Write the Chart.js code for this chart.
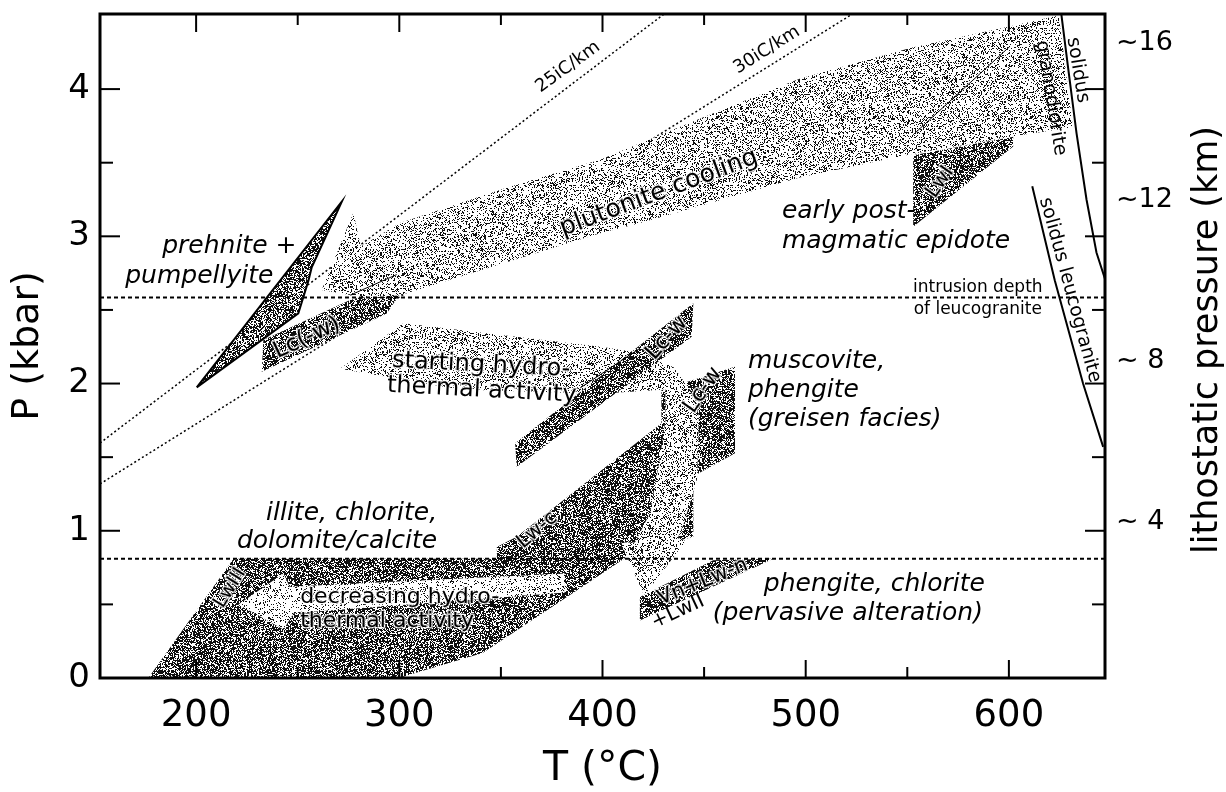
<!DOCTYPE html>
<html><head><meta charset="utf-8">
<script src="https://cdn.jsdelivr.net/npm/chart.js@4.4.1/dist/chart.umd.min.js"></script>
<style>html,body{margin:0;padding:0;background:#fff;}canvas{display:block;}</style>
</head><body>
<canvas id="c" width="1226" height="792"></canvas>
<script>
// ---------- axes ----------
const T_RANGE = [152.7, 647.3];
const P_RANGE = [0, 4.51];
const tTickLabels = [200, 300, 400, 500, 600];
const tMinorTicks = [250, 350, 450, 550];
const pTickLabels = [0, 1, 2, 3, 4];
const pMinorTicks = [0.5, 1.5, 2.5, 3.5];
const kmTickAt = [1.06, 2.15, 3.25, 4.31];
const kmTickLabels = ['~ 4', '~ 8', '~12', '~16'];

// ---------- fields and arrows, [T (°C), P (kbar)] ----------
const prehnitePumpellyite = [[200.3,1.974],[271.7,3.235],[256.9,2.79],[255.3,2.70],[250.3,2.477],[200.3,1.974]];
const lcParenW = [[232.3,2.08],[233.1,2.295],[275.8,2.567],[296,2.64],[300.4,2.61],[293.8,2.476],[232.3,2.08]];
const plutoniteCooling = [[261.8,2.635],[277.4,3.16],[281,2.93],[300.4,3.09],[352.8,3.33],[398.8,3.52],[450,3.81],[497,4.07],[552,4.28],[602,4.43],[624.5,4.50],[627.8,4.15],[631.5,3.74],[602,3.68],[552.8,3.56],[497,3.40],[418.5,3.09],[398.8,3.02],[300.4,2.60],[285,2.58],[261.8,2.635]];
const lwI = [[552.9,3.065],[552.9,3.55],[602.1,3.676],[602.1,3.61],[552.9,3.065]];
const startingHydro = [[270.8,2.10],[302,2.41],[350,2.33],[399,2.25],[418.5,2.21],[435,2.11],[443,1.96],[447.5,1.78],[446.5,1.35],[440,1.05],[437,0.95],[441,0.93],[420.5,0.56],[409,0.92],[416,0.92],[423.4,1.12],[428.3,1.50],[431,1.75],[431,1.96],[398,1.93],[330,1.96],[270.8,2.10]];
const lcW1 = [[357.8,1.435],[357,1.594],[444.7,2.545],[443.9,2.318],[357.8,1.435]];
const lwcLwIII = [[176.5,0],[218.4,0.81],[348,0.81],[348,0.89],[357.8,0.96],[429,1.73],[429,1.956],[465.2,2.114],[465.2,1.526],[444.7,1.37],[444.7,0.96],[415,0.85],[382.5,0.55],[341,0.17],[307,0.03],[300,0],[176.5,0]];
const vnLwn = [[418.4,0.39],[418.4,0.55],[454.5,0.80],[484,0.81],[418.4,0.39]];
const decreasingHydro = [[220.8,0.50],[243,0.71],[246,0.62],[381.5,0.71],[381.5,0.58],[248,0.44],[243,0.33],[220.8,0.50]];

// ---------- lines ----------
const geotherm25 = [[152.7,1.596],[430.3,4.51]];
const geotherm30 = [[152.7,1.318],[523,4.51]];
const intrusionDepth = [[152.7,2.585],[647.3,2.585]];
const lowerLimit = [[152.7,0.81],[647.3,0.81]];
const solidusGranodiorite = [[625.8,4.51],[629.1,4.15],[633.3,3.70],[638.2,3.25],[643.1,2.89],[647.3,2.71]];
const solidusLeucogranite = [[611.5,3.34],[622.6,2.70],[636.5,2.00],[646.4,1.57]];
const lwIAxis = [[552.9,3.69],[600.5,4.29]];
const arrowAxis = [[275.8,2.60],[298.7,2.74]];
const lcW1Edge = [[389,1.97],[418.5,2.24]];

// ---------- texts ----------
const texts = [
  {t:'25iC/km', at:[383.0,4.149], rot:-36, size:18},
  {t:'30iC/km', at:[480.9,4.265], rot:-32, size:18},
  {t:'plutonite cooling', at:[427.8,3.294], rot:-20.5, size:25, halo:true},
  {t:'prehnite +', at:[183.3,2.886], size:25, it:true, align:'left', base:'alphabetic'},
  {t:'pumpellyite', at:[165.1,2.683], size:25, it:true, align:'left', base:'alphabetic'},
  {t:'starting hydro-', at:[296.3,2.114], rot:3, size:24, align:'left', base:'alphabetic', halo:true},
  {t:'thermal activity', at:[293.8,1.944], rot:3, size:24, align:'left', base:'alphabetic', halo:true},
  {t:'decreasing hydro-', at:[251.2,0.509], size:22, align:'left', base:'alphabetic', halo:true},
  {t:'thermal activity', at:[251.2,0.348], size:22, align:'left', base:'alphabetic', halo:true},
  {t:'illite, chlorite,', at:[318.6,1.073], size:25, it:true, align:'right', base:'alphabetic'},
  {t:'dolomite/calcite', at:[318.6,0.881], size:25, it:true, align:'right', base:'alphabetic'},
  {t:'early post-', at:[488.3,3.122], size:25, it:true, align:'left', base:'alphabetic'},
  {t:'magmatic epidote', at:[488.3,2.920], size:25, it:true, align:'left', base:'alphabetic'},
  {t:'muscovite,', at:[471.6,2.105], size:25, it:true, align:'left', base:'alphabetic'},
  {t:'phengite', at:[471.6,1.908], size:25, it:true, align:'left', base:'alphabetic'},
  {t:'(greisen facies)', at:[471.6,1.711], size:25, it:true, align:'left', base:'alphabetic'},
  {t:'phengite, chlorite', at:[588.2,0.594], size:25, it:true, align:'right', base:'alphabetic'},
  {t:'(pervasive alteration)', at:[587.2,0.394], size:25, it:true, align:'right', base:'alphabetic'},
  {t:'intrusion depth', at:[584.7,2.623], size:17, base:'alphabetic'},
  {t:'of leucogranite', at:[584.7,2.469], size:17, base:'alphabetic'},
  {t:'Lc(-w)', at:[254.6,2.309], rot:-25, size:23, halo:true},
  {t:'Lc-w', at:[431.7,2.309], rot:-48, size:22, halo:true},
  {t:'Lc-w', at:[449.4,1.956], rot:-55, size:22, halo:true},
  {t:'Lw-c', at:[367.8,1.005], rot:-40, size:20, halo:true},
  {t:'LwI', at:[566.1,3.368], rot:-55, size:20, halo:true},
  {t:'LwIII', at:[216.7,0.611], rot:-58, size:19, halo:true},
  {t:'Vn+Lw-n', at:[449.4,0.652], rot:-22, size:21, halo:true},
  {t:'+LwII', at:[437.1,0.448], rot:-25, size:20},
  {t:'solidus', at:[633.9,4.129], rot:80.7, size:19},
  {t:'granodiorite', at:[620.6,3.939], rot:80.7, size:19},
  {t:'solidus leucogranite', at:[630.0,2.635], rot:74.7, size:19}
];
const rightTitle = 'lithostatic pressure (km)';

// ---------- styles ----------
const canvas = document.getElementById('c');
const ctx0 = canvas.getContext('2d');
function hash2(x, y, seed){
  let h = (Math.imul(x, 0x27d4eb2d) ^ Math.imul(y, 0x165667b1) ^ Math.imul(seed, 0x61c88647)) >>> 0;
  h = Math.imul(h ^ (h >>> 15), 0x85EBCA6B) >>> 0;
  h = Math.imul(h ^ (h >>> 13), 0xC2B2AE35) >>> 0;
  h = (h ^ (h >>> 16)) >>> 0;
  return h / 4294967296;
}
function stipple(density, seed){
  const n = 157, c = document.createElement('canvas'); c.width = c.height = n;
  const g = c.getContext('2d'); const img = g.createImageData(n, n);
  for (let yy = 0; yy < n; yy++) for (let xx = 0; xx < n; xx++){
    const i = yy * n + xx;
    const v = hash2(xx, yy, seed) < density ? 15 : 255;
    img.data[4*i] = img.data[4*i+1] = img.data[4*i+2] = v; img.data[4*i+3] = 255;
  }
  g.putImageData(img, 0, 0);
  return ctx0.createPattern(c, 'repeat');
}
const darkFill = stipple(0.62, 3);
const prehFill = stipple(0.56, 7);
const lightFill = stipple(0.26, 11);
const paleFill = stipple(0.16, 13);

const pts = a => a.map(([x, y]) => ({x, y}));
const layers = [];
function shape(d, fillStyle, border){
  layers.push({data: pts(d), backgroundColor: fillStyle, borderColor: '#000', borderWidth: border || 0, fill: 'shape', pointRadius: 0, tension: 0});
}
function line(d, w, dash){
  layers.push({data: pts(d), borderColor: '#000', borderWidth: w, borderDash: dash || [], fill: false, pointRadius: 0, tension: 0});
}
// bottom → top
line(geotherm25, 1.5, [2, 2.5]);
line(geotherm30, 1.5, [2, 2.5]);
shape(lwcLwIII, darkFill);
shape(decreasingHydro, paleFill);
shape(startingHydro, lightFill);
shape(lcW1, darkFill);
shape(vnLwn, darkFill);
shape(lcParenW, darkFill);
shape(lwI, darkFill);
shape(plutoniteCooling, lightFill);
line(lwIAxis, 1);
line(arrowAxis, 1);
line(lcW1Edge, 1);
line(intrusionDepth, 2, [4, 3]);
line(lowerLimit, 2, [4, 3]);
shape(prehnitePumpellyite, prehFill, 2);
line(solidusGranodiorite, 2);
line(solidusLeucogranite, 2);
layers.forEach((d, i) => { d.order = layers.length - i; });

const FONT = 'DejaVu Sans';
const textPlugin = {
  id: 'texts',
  afterDatasetsDraw(chart){
    const {ctx, scales: {x, y}, chartArea: a} = chart;
    ctx.save();
    ctx.fillStyle = '#000';
    texts.forEach(o => {
      ctx.save();
      ctx.translate(x.getPixelForValue(o.at[0]), y.getPixelForValue(o.at[1]));
      ctx.rotate((o.rot || 0) * Math.PI / 180);
      ctx.font = (o.it ? 'italic ' : '') + o.size + 'px "' + FONT + '"';
      ctx.textAlign = o.align || 'center';
      ctx.textBaseline = o.base || 'middle';
      if (o.halo){
        ctx.strokeStyle = 'rgba(255,255,255,0.75)';
        ctx.lineWidth = 3; ctx.lineJoin = 'round';
        ctx.strokeText(o.t, 0, 0);
      }
      ctx.fillText(o.t, 0, 0);
      ctx.restore();
    });
    ctx.save();
    ctx.translate(1208, (a.top + a.bottom) / 2 - 6);
    ctx.rotate(-Math.PI / 2);
    ctx.font = '35px "' + FONT + '"';
    ctx.textAlign = 'center'; ctx.textBaseline = 'middle';
    ctx.fillText(rightTitle, 0, 0);
    ctx.restore();
    ctx.restore();
  }
};
const framePlugin = {
  id: 'frame',
  afterDatasetsDraw(chart){
    const {ctx, chartArea: a, scales: {x, y}} = chart;
    ctx.save();
    ctx.strokeStyle = '#000';
    ctx.lineWidth = 2;
    const seg = (x1, y1, x2, y2) => { ctx.beginPath(); ctx.moveTo(x1, y1); ctx.lineTo(x2, y2); ctx.stroke(); };
    tTickLabels.forEach(v => { const p = x.getPixelForValue(v); seg(p, a.bottom, p, a.bottom - 18); seg(p, a.top, p, a.top + 18); });
    tMinorTicks.forEach(v => { const p = x.getPixelForValue(v); seg(p, a.bottom, p, a.bottom - 11); seg(p, a.top, p, a.top + 11); });
    pTickLabels.forEach(v => { const p = y.getPixelForValue(v); seg(a.left, p, a.left + 20, p); seg(a.right, p, a.right - 20, p); });
    pMinorTicks.forEach(v => { const p = y.getPixelForValue(v); seg(a.left, p, a.left + 13, p); seg(a.right, p, a.right - 13, p); });
    ctx.lineWidth = 3;
    ctx.strokeRect(a.left, a.top, a.right - a.left, a.bottom - a.top);
    ctx.restore();
  }
};

Chart.defaults.font.family = FONT;
Chart.defaults.color = '#000';

const noEdgePad = s => { s.paddingTop = 0; s.paddingBottom = 0; s.paddingLeft = 0; s.paddingRight = 0; };

new Chart(canvas, {
  type: 'line',
  data: {datasets: layers},
  options: {
    responsive: false, animation: false, devicePixelRatio: 1,
    layout: {padding: {top: 14, left: 0, right: 0, bottom: 0}},
    plugins: {legend: {display: false}, tooltip: {enabled: false}},
    scales: {
      x: {
        type: 'linear', min: T_RANGE[0], max: T_RANGE[1],
        afterBuildTicks: s => { s.ticks = tTickLabels.map(v => ({value: v})); },
        grid: {display: false, drawTicks: false}, border: {display: false},
        ticks: {font: {size: 37}, padding: 16, maxRotation: 0, autoSkip: false},
        title: {display: true, text: 'T (°C)', font: {size: 41, lineHeight: 1.1}, padding: {top: 0, bottom: 0}},
        afterFit: s => { s.height = 114; noEdgePad(s); }
      },
      y: {
        type: 'linear', position: 'left', min: P_RANGE[0], max: P_RANGE[1],
        afterBuildTicks: s => { s.ticks = pTickLabels.map(v => ({value: v})); },
        grid: {display: false, drawTicks: false}, border: {display: false},
        ticks: {font: {size: 34}, padding: 10, autoSkip: false},
        title: {display: true, text: 'P (kbar)', font: {size: 38}, padding: {top: 5, bottom: 0}},
        afterFit: s => { s.width = 100; noEdgePad(s); }
      },
      y2: {
        type: 'linear', position: 'right', min: P_RANGE[0], max: P_RANGE[1],
        afterBuildTicks: s => { s.ticks = kmTickAt.map(v => ({value: v})); },
        grid: {display: false, drawTicks: false}, border: {display: false},
        ticks: {font: {size: 27}, padding: 11, autoSkip: false, callback: (v, i) => kmTickLabels[i]},
        afterFit: s => { s.width = 121; noEdgePad(s); }
      }
    }
  },
  plugins: [textPlugin, framePlugin]
});
</script>
</body></html>
